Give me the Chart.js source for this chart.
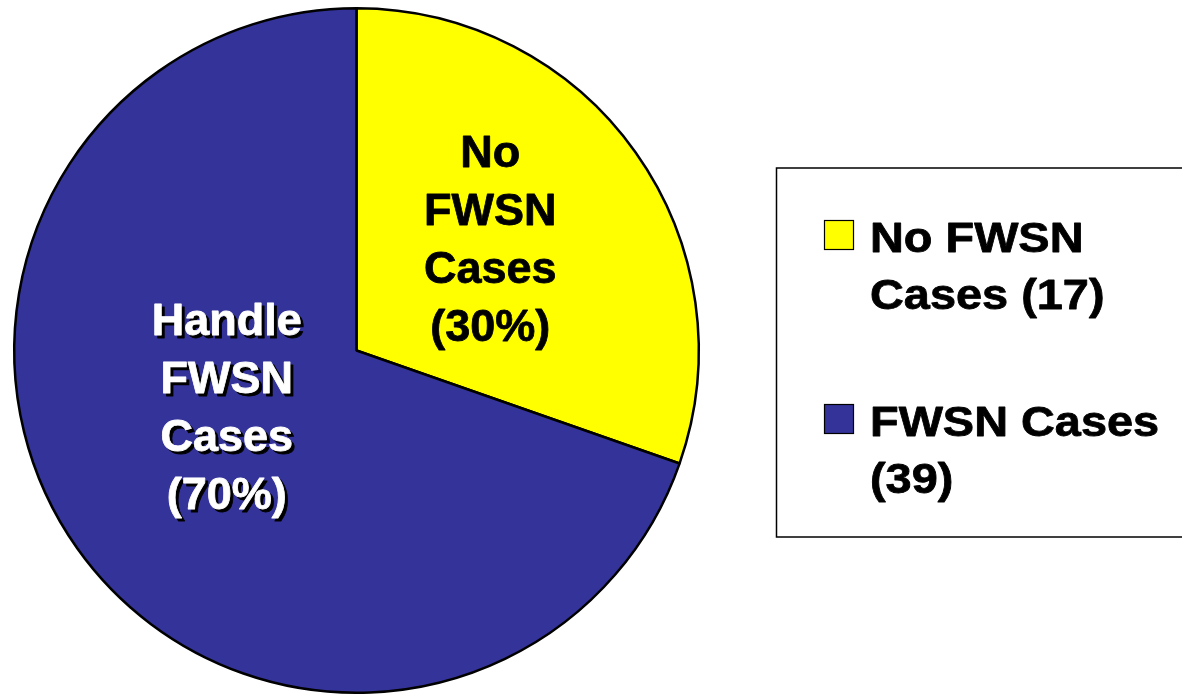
<!DOCTYPE html>
<html>
<head>
<meta charset="utf-8">
<script src="https://cdn.jsdelivr.net/npm/chart.js@4.4.1/dist/chart.umd.min.js"></script>
<style>
html,body{margin:0;padding:0;background:#fff;}
#wrap{position:relative;width:1182px;height:697px;}
</style>
</head>
<body>
<div id="wrap"><canvas id="c" width="1182" height="697"></canvas></div>
<script>
// ---- data ----
const categories = ["No FWSN Cases", "FWSN Cases"];
const counts = [17, 39];
const sliceLabels = [["No", "FWSN", "Cases", "(30%)"], ["Handle", "FWSN", "Cases", "(70%)"]];
const legendLabels = [["No FWSN", "Cases (17)"], ["FWSN Cases", "(39)"]];
const colors = ["#FFFF00", "#333399"];

// label placement (fractions of radius relative to pie centre)
const labelOffsets = [{x: 0.391, y: -0.283}, {x: -0.379, y: 0.21}];
const labelStyles = [{fill: "#000", shadow: null}, {fill: "#fff", shadow: "#000"}];

function boldText(ctx, t, x, y, color, w) {
  ctx.fillStyle = color;
  ctx.strokeStyle = color;
  ctx.lineWidth = w;
  ctx.lineJoin = "round";
  ctx.fillText(t, x, y);
  ctx.strokeText(t, x, y);
}

const sliceLabelPlugin = {
  id: "sliceLabels",
  afterDatasetsDraw(chart) {
    const ctx = chart.ctx;
    const meta = chart.getDatasetMeta(0);
    const arc0 = meta.data[0];
    const cx = arc0.x, cy = arc0.y, R = arc0.outerRadius;
    ctx.save();
    ctx.font = "bold 45px 'Liberation Sans', Arial, sans-serif";
    ctx.textAlign = "center";
    ctx.textBaseline = "alphabetic";
    const lh = 58;
    sliceLabels.forEach((lines, i) => {
      const x = cx + labelOffsets[i].x * R;
      const ym = cy + labelOffsets[i].y * R;
      lines.forEach((t, j) => {
        const y = ym + (j - (lines.length - 1) / 2) * lh;
        if (labelStyles[i].shadow) {
          boldText(ctx, t, x + 3, y + 3, labelStyles[i].shadow, 0.8);
        }
        boldText(ctx, t, x, y, labelStyles[i].fill, 0.8);
      });
    });
    ctx.restore();
  }
};

const legendBoxPlugin = {
  id: "legendBox",
  afterDraw(chart) {
    const ctx = chart.ctx;
    ctx.save();
    // frame
    ctx.strokeStyle = "#000";
    ctx.lineWidth = 1.5;
    ctx.strokeRect(776.5, 168, 420, 369);
    const rows = [220, 404];
    categories.forEach((c, i) => {
      const top = rows[i];
      ctx.fillStyle = colors[i];
      ctx.fillRect(824, top, 30, 30);
      ctx.lineWidth = 1.2;
      ctx.strokeStyle = "#000";
      ctx.strokeRect(824.5, top + 0.5, 29, 29);
      ctx.font = "bold 43px 'Liberation Sans', Arial, sans-serif";
      ctx.textAlign = "left";
      ctx.textBaseline = "alphabetic";
      legendLabels[i].forEach((t, j) => {
        ctx.save();
        ctx.translate(870, top + 32 + j * 57);
        ctx.scale(1.09, 1);
        boldText(ctx, t, 0, 0, "#000", 0.8);
        ctx.restore();
      });
    });
    ctx.restore();
  }
};

new Chart(document.getElementById("c"), {
  type: "pie",
  data: {
    labels: categories,
    datasets: [{
      data: counts,
      backgroundColor: colors,
      borderColor: "#000",
      borderWidth: 2.5,
      hoverOffset: 0
    }]
  },
  options: {
    responsive: false,
    animation: false,
    layout: {padding: {left: 13, top: 7, right: 482, bottom: 3}},
    plugins: {legend: {display: false}, tooltip: {enabled: false}}
  },
  plugins: [sliceLabelPlugin, legendBoxPlugin]
});
</script>
</body>
</html>
